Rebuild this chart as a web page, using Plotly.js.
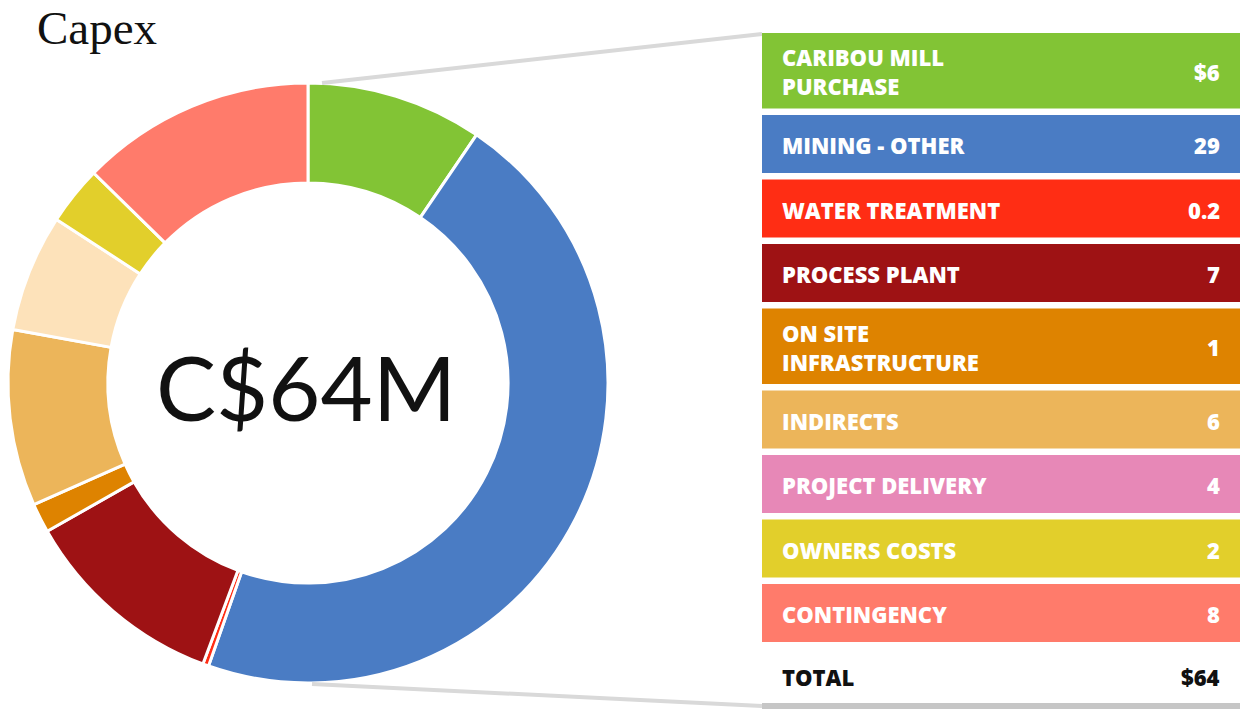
<!DOCTYPE html>
<html>
<head>
<meta charset="utf-8">
<script src="https://cdn.plot.ly/plotly-3.0.1.min.js"></script>
<style>
  html, body { margin: 0; padding: 0; background: #fff; }
  #chart { width: 1243px; height: 709px; }
</style>
</head>
<body>
<div id="chart"></div>
<script>
// capex breakdown, C$ millions
const categories = ['CARIBOU MILL<br>PURCHASE', 'MINING - OTHER', 'WATER TREATMENT', 'PROCESS PLANT',
  'ON SITE<br>INFRASTRUCTURE', 'INDIRECTS', 'PROJECT DELIVERY', 'OWNERS COSTS', 'CONTINGENCY'];
const values = [6, 29, 0.2, 7, 1, 6, 4, 2, 8];
const valueLabels = ['$6', '29', '0.2', '7', '1', '6', '4', '2', '8'];
const pieColors = ['#82C435', '#4A7CC4', '#FF2D14', '#9E1214', '#DE8300', '#ECB55A', '#FDE2BA', '#E2CF2B', '#FF7B6B'];
const rowColors = ['#82C435', '#4A7CC4', '#FF2D14', '#9E1214', '#DE8300', '#ECB55A', '#E788B7', '#E2CF2B', '#FF7B6B'];
const totalLabel = '$64';
const centerLabel = 'C$64M';

const W = 1243, H = 709;
const px = x => x / W;
const py = y => 1 - y / H;

const tableFont = '"Open Sans", Lato, sans-serif';
const rowFont = { family: tableFont, size: 22, color: '#fff', weight: 800 };
const shapes = [];
const annotations = [];

// leader lines from donut to table
shapes.push({ type: 'line', xref: 'paper', yref: 'paper', x0: px(322), y0: py(83), x1: px(762), y1: py(34),
  line: { color: '#D9D9D9', width: 4 } });
shapes.push({ type: 'line', xref: 'paper', yref: 'paper', x0: px(312), y0: py(684), x1: px(762), y1: py(706),
  line: { color: '#D9D9D9', width: 4 } });

// table rows
let rowTop = 33;
categories.forEach((cat, i) => {
  const h = cat.includes('<br>') ? 75.5 : 58;
  shapes.push({ type: 'rect', xref: 'paper', yref: 'paper', x0: px(762), x1: px(1240), y0: py(rowTop), y1: py(rowTop + h),
    fillcolor: rowColors[i], line: { width: 0 } });
  const mid = rowTop + h / 2 + 1;
  annotations.push({ xref: 'paper', yref: 'paper', x: px(780), y: py(mid), xanchor: 'left', yanchor: 'middle',
    text: cat, showarrow: false, align: 'left', font: rowFont });
  annotations.push({ xref: 'paper', yref: 'paper', x: px(1222), y: py(mid), xanchor: 'right', yanchor: 'middle',
    text: valueLabels[i], showarrow: false, font: rowFont });
  rowTop += h + 6.5;
});

// total row
const totalFont = Object.assign({}, rowFont, { color: '#111' });
annotations.push({ xref: 'paper', yref: 'paper', x: px(780), y: py(677), xanchor: 'left', yanchor: 'middle',
  text: 'TOTAL', showarrow: false, font: totalFont });
annotations.push({ xref: 'paper', yref: 'paper', x: px(1222), y: py(677), xanchor: 'right', yanchor: 'middle',
  text: totalLabel, showarrow: false, font: totalFont });
shapes.push({ type: 'rect', xref: 'paper', yref: 'paper', x0: px(762), x1: px(1240), y0: py(703), y1: py(709),
  fillcolor: '#C6C6C6', line: { width: 0 } });

// donut centre label
annotations.push({ xref: 'paper', yref: 'paper', x: px(306), y: py(386), xanchor: 'center', yanchor: 'middle',
  text: centerLabel, showarrow: false, font: { family: 'Lato, sans-serif', size: 90, color: '#111' } });

// chart title
annotations.push({ xref: 'paper', yref: 'paper', x: px(35), y: py(28), xanchor: 'left', yanchor: 'middle',
  text: 'Capex', showarrow: false,
  font: { family: '"Liberation Serif", "DejaVu Serif", serif', size: 47, color: '#111' } });

const data = [{
  type: 'pie',
  labels: categories,
  values: values,
  sort: false,
  direction: 'clockwise',
  rotation: 0,
  hole: 0.667,
  textinfo: 'none',
  hoverinfo: 'label+value',
  marker: { colors: pieColors, line: { color: '#fff', width: 3 } },
  domain: { x: [px(8), px(608)], y: [py(683), py(83)] },
  showlegend: false
}];

const layout = {
  width: W,
  height: H,
  autosize: false,
  margin: { l: 0, r: 0, t: 0, b: 0, pad: 0 },
  paper_bgcolor: '#fff',
  shapes: shapes,
  annotations: annotations
};

Plotly.newPlot('chart', data, layout, { displayModeBar: false, staticPlot: true });
</script>
</body>
</html>
